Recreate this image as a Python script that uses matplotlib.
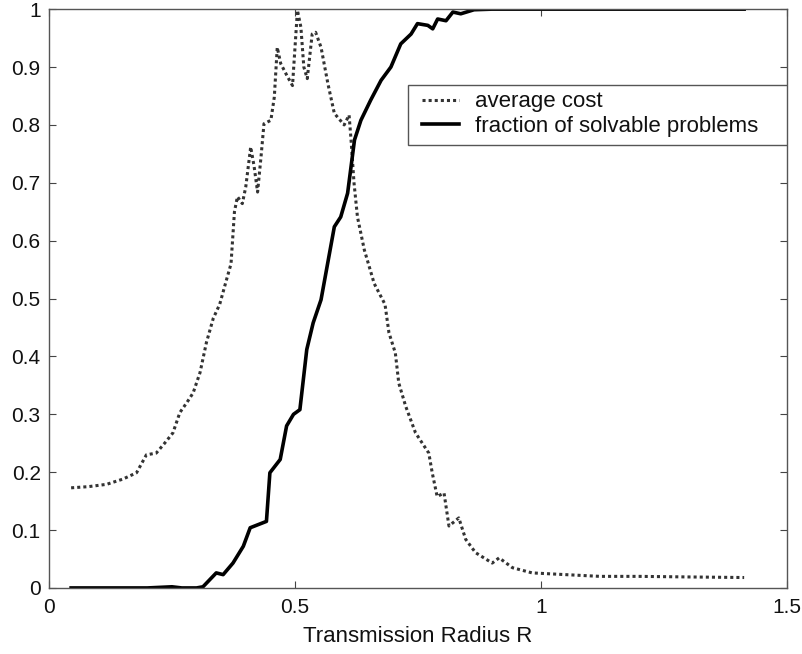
import matplotlib.pyplot as plt
from matplotlib.patches import Rectangle

# Average cost vs. transmission radius (dotted curve)
radius_cost = [0.045, 0.08, 0.117, 0.15, 0.178, 0.198, 0.218, 0.235, 0.252, 0.266,
               0.28, 0.293, 0.307, 0.32, 0.334, 0.347, 0.36, 0.37, 0.377, 0.383,
               0.393, 0.40, 0.41, 0.417, 0.424, 0.431, 0.437, 0.451, 0.458, 0.464,
               0.471, 0.485, 0.495, 0.505, 0.512, 0.518, 0.525, 0.535, 0.542, 0.553,
               0.567, 0.58, 0.60, 0.61, 0.614, 0.62, 0.627, 0.641, 0.661, 0.683,
               0.691, 0.704, 0.711, 0.725, 0.745, 0.772, 0.779, 0.789, 0.803, 0.813,
               0.833, 0.847, 0.867, 0.901, 0.915, 0.942, 0.982, 1.05, 1.12, 1.2,
               1.3, 1.413]
avg_cost = [0.173, 0.175, 0.179, 0.188, 0.199, 0.23, 0.233, 0.25, 0.268, 0.303,
            0.32, 0.337, 0.372, 0.424, 0.466, 0.49, 0.53, 0.56, 0.65, 0.676,
            0.664, 0.693, 0.762, 0.728, 0.684, 0.745, 0.802, 0.808, 0.848, 0.934,
            0.906, 0.883, 0.868, 0.998, 0.969, 0.9, 0.88, 0.957, 0.96, 0.934,
            0.871, 0.82, 0.80, 0.817, 0.774, 0.70, 0.641, 0.584, 0.526, 0.49,
            0.441, 0.406, 0.354, 0.314, 0.268, 0.233, 0.199, 0.158, 0.164, 0.107,
            0.121, 0.084, 0.061, 0.043, 0.052, 0.035, 0.026, 0.023, 0.02, 0.02,
            0.019, 0.018]

# Fraction of solvable problems (solid curve)
radius_solv = [0.045, 0.2, 0.25, 0.27, 0.30, 0.313, 0.34, 0.354, 0.374, 0.395,
               0.409, 0.442, 0.449, 0.47, 0.483, 0.497, 0.51, 0.524, 0.537, 0.553,
               0.58, 0.593, 0.607, 0.621, 0.634, 0.654, 0.675, 0.695, 0.715, 0.736,
               0.749, 0.77, 0.78, 0.79, 0.807, 0.821, 0.837, 0.864, 0.9, 1.0,
               1.2, 1.413]
frac_solvable = [0, 0, 0.002, 0, 0, 0.002, 0.026, 0.023, 0.043, 0.072,
                 0.104, 0.115, 0.199, 0.222, 0.28, 0.30, 0.308, 0.412, 0.458, 0.498,
                 0.624, 0.641, 0.682, 0.774, 0.808, 0.843, 0.877, 0.90, 0.94, 0.957,
                 0.975, 0.972, 0.966, 0.983, 0.98, 0.995, 0.992, 0.999, 1, 1,
                 1, 1]

plt.rcParams['font.family'] = ['Liberation Sans', 'DejaVu Sans']

fig = plt.figure(figsize=(8.03, 6.54), dpi=100)
ax = fig.add_axes([0.061, 0.101, 0.919, 0.885])

ax.plot(radius_cost, avg_cost, color='#333333', linestyle=(0, (1, 1)), linewidth=2.2,
        label='average cost')
ax.plot(radius_solv, frac_solvable, color='black', linewidth=2.6,
        label='fraction of solvable problems')

ax.set_xlim(0, 1.5)
ax.set_ylim(0, 1)
ax.set_xticks([0, 0.5, 1, 1.5])
ax.set_xticklabels(['0', '0.5', '1', '1.5'])
ax.set_yticks([i / 10 for i in range(11)])
ax.set_yticklabels(['0', '0.1', '0.2', '0.3', '0.4', '0.5', '0.6', '0.7', '0.8', '0.9', '1'])
ax.tick_params(direction='in', top=True, right=True, labelsize=15, length=5, colors='#444444',
               labelcolor='#111111')
ax.tick_params(axis='x', pad=7)
ax.tick_params(axis='y', pad=6)
for s in ax.spines.values():
    s.set_color('#555555')
    s.set_linewidth(1.0)

ax.set_xlabel('Transmission Radius R', fontsize=16, labelpad=7, color='#111111')

# legend box drawn separately so the padding can be uneven, as in MATLAB
ax.add_patch(Rectangle((0.4865, 0.765), 0.5135, 0.104, transform=ax.transAxes,
                       facecolor='white', edgecolor='#555555', linewidth=1.0, zorder=4))
leg = ax.legend(loc='upper left', bbox_to_anchor=(0.505, 0.858), fontsize=16,
                frameon=False, handlelength=1.7, handletextpad=0.72,
                borderpad=0, labelspacing=0.15, borderaxespad=0)
leg.set_zorder(5)
for t in leg.get_texts():
    t.set_color('#111111')

fig.savefig('out.png', dpi=100)
